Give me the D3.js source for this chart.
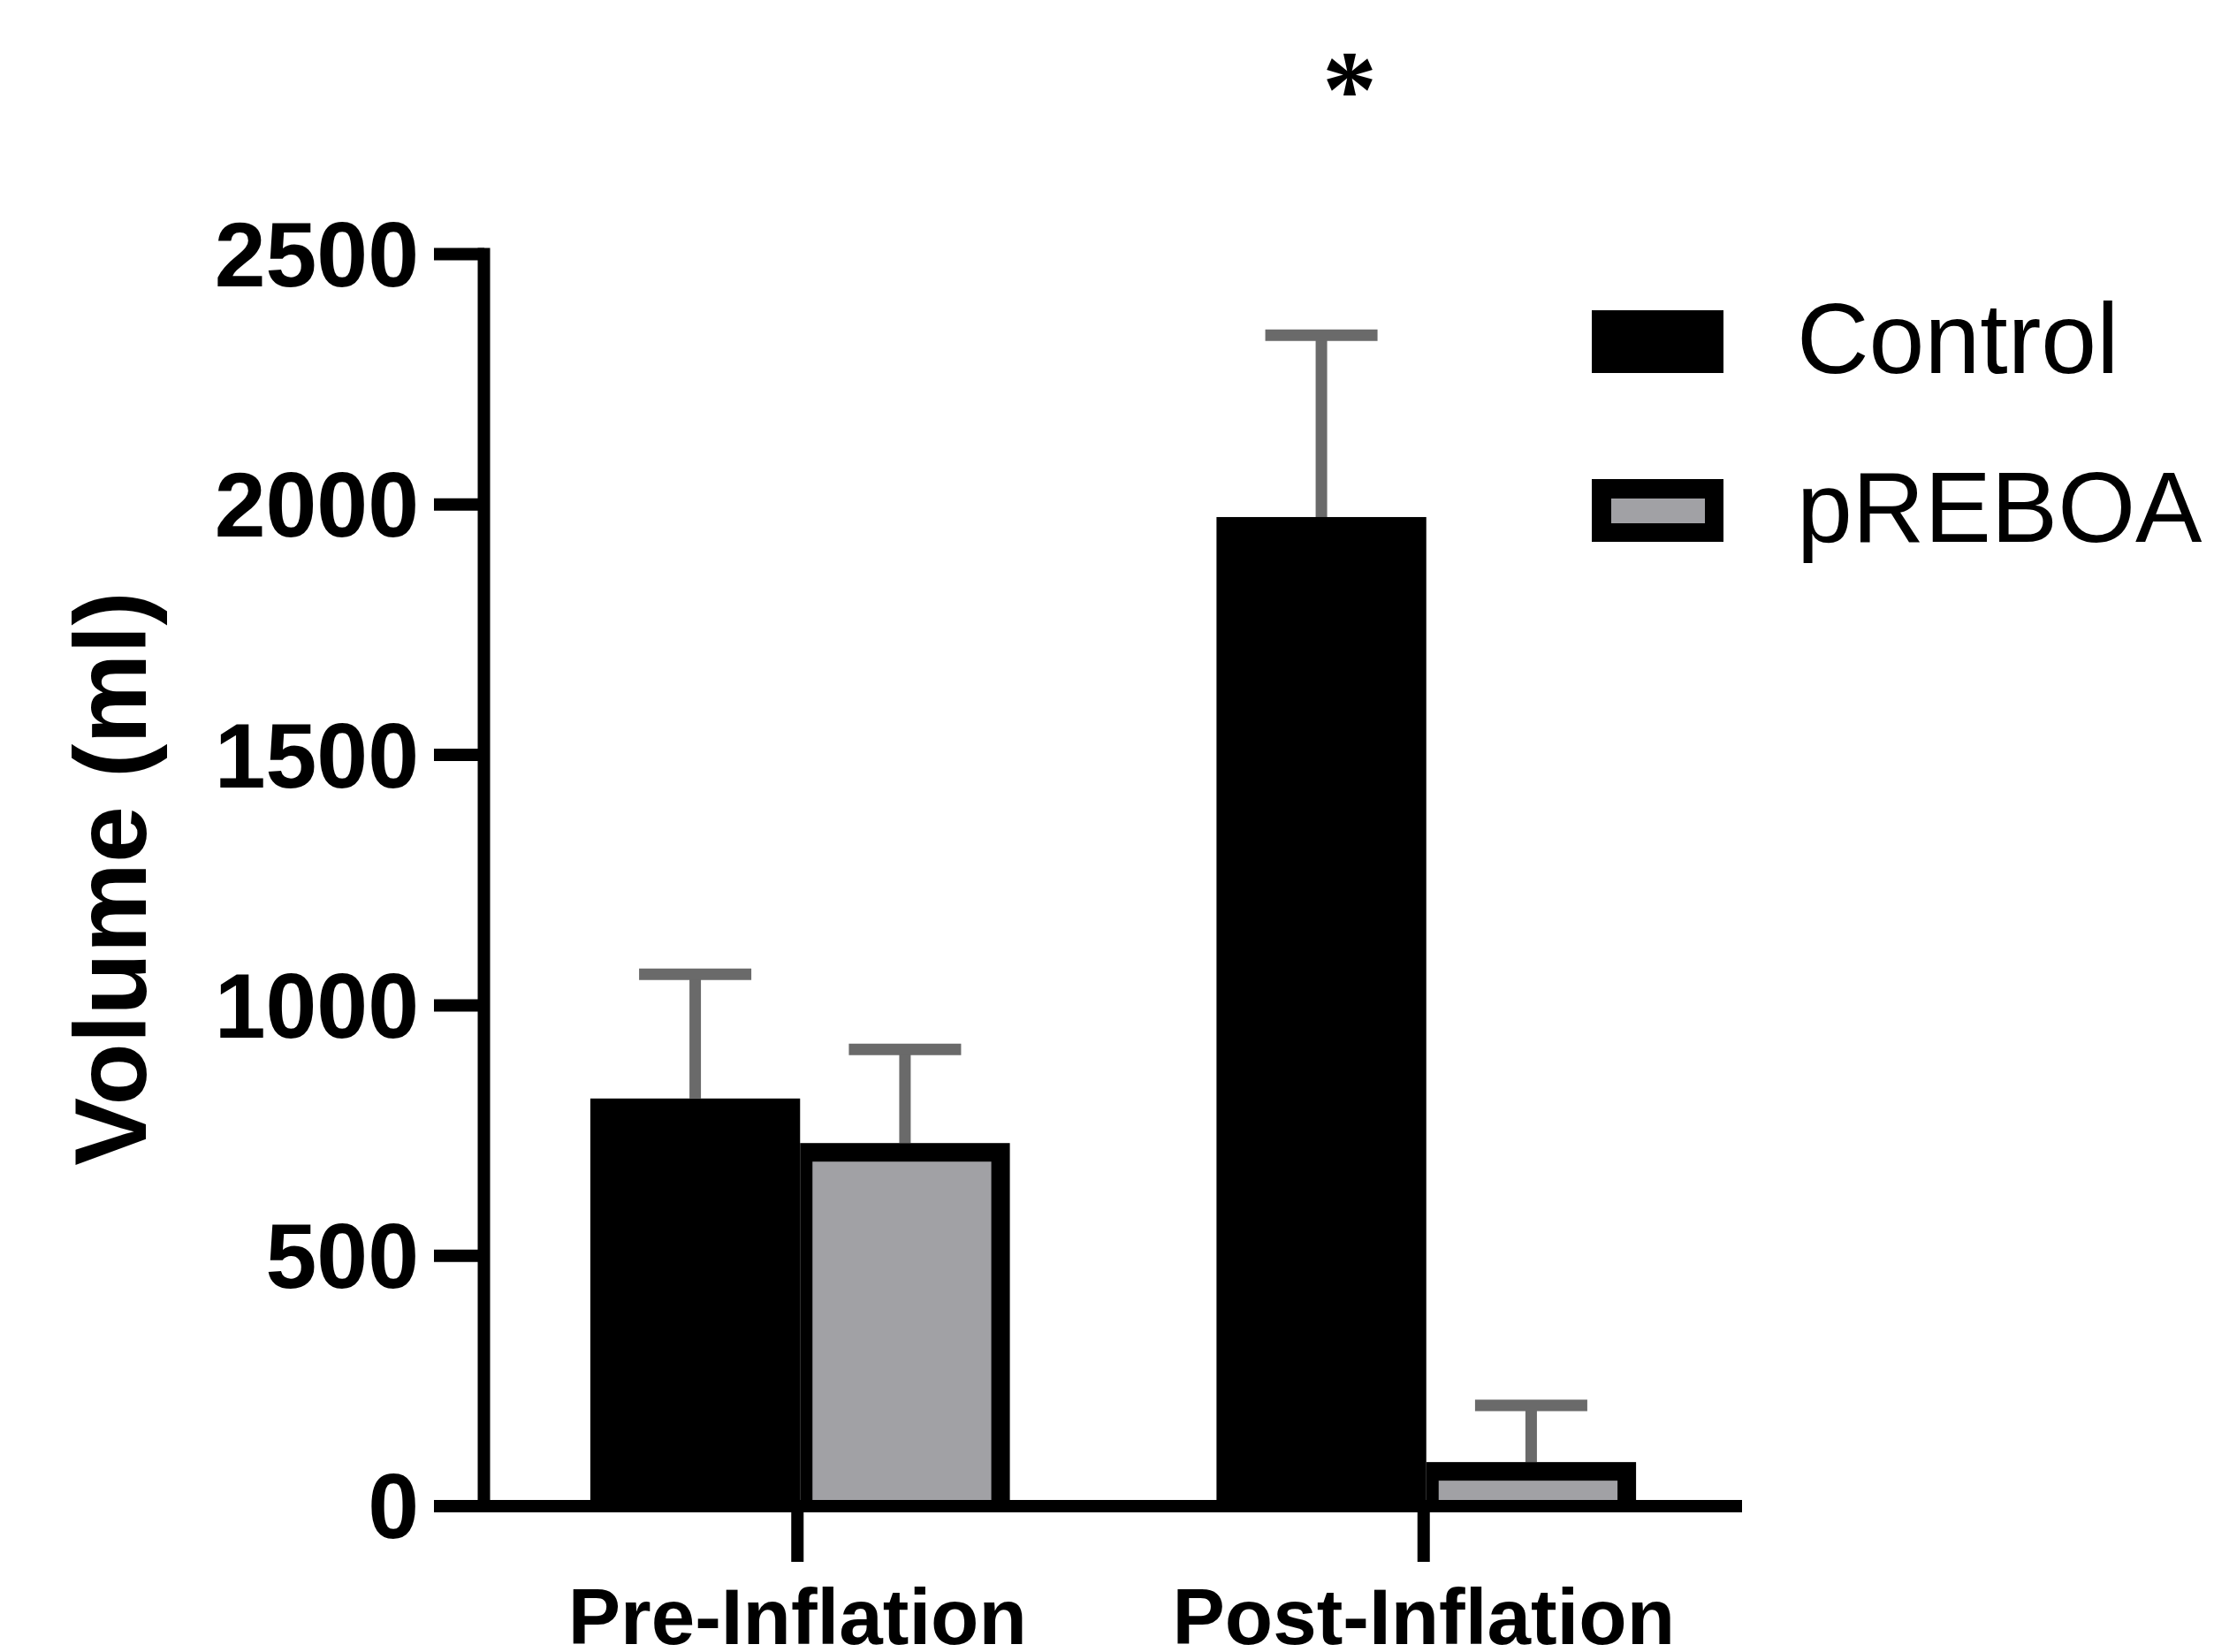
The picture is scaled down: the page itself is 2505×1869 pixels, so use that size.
<!DOCTYPE html>
<html>
<head>
<meta charset="utf-8">
<script src="https://cdn.jsdelivr.net/npm/d3@7"></script>
<style>
  html, body { margin: 0; padding: 0; background: #fff; }
  svg { display: block; }
</style>
</head>
<body>
<div id="chart"></div>
<script>
// data
const groups = ["Pre-Inflation", "Post-Inflation"];
const series = ["Control", "pREBOA"];
const controlMeans = [814, 1975];
const controlUpper = [1062, 2338];   // top of the error bar
const reboaMeans = [725, 88];
const reboaUpper = [912, 201];
const yTicks = [0, 500, 1000, 1500, 2000, 2500];

const W = 2505, H = 1869;
const font = "'Liberation Sans', Arial, sans-serif";
const gray = "#a1a1a5";
const errColor = "#6a6a6a";

const svg = d3.select("#chart").append("svg")
    .attr("width", W)
    .attr("height", H)
    .attr("viewBox", [0, 0, W, H])
    .style("background", "#fff");

// scales
const y = d3.scaleLinear().domain([0, 2500]).range([1704, 287.5]);
const x = d3.scaleBand().domain(groups).range([551, 1968]).paddingInner(0.33).paddingOuter(0.165);
const xs = d3.scaleBand().domain(series).range([0, x.bandwidth()]);

const rows = groups.map((g, i) => ([
    { group: g, key: "Control", mean: controlMeans[i], upper: controlUpper[i] },
    { group: g, key: "pREBOA", mean: reboaMeans[i], upper: reboaUpper[i] }
])).flat();

const barX = d => x(d.group) + xs(d.key);
const border = 21;

// bars
const bar = svg.append("g").selectAll("g")
    .data(rows)
    .join("g");

// error bars (drawn first, bars sit over the stem)
const capW = 127;
bar.append("line")
    .attr("x1", d => barX(d) + xs.bandwidth() / 2)
    .attr("x2", d => barX(d) + xs.bandwidth() / 2)
    .attr("y1", d => y(d.mean))
    .attr("y2", d => y(d.upper))
    .attr("stroke", errColor)
    .attr("stroke-width", 13);
bar.append("line")
    .attr("x1", d => barX(d) + xs.bandwidth() / 2 - capW / 2)
    .attr("x2", d => barX(d) + xs.bandwidth() / 2 + capW / 2)
    .attr("y1", d => y(d.upper))
    .attr("y2", d => y(d.upper))
    .attr("stroke", errColor)
    .attr("stroke-width", 13);

bar.append("rect")
    .attr("x", d => barX(d))
    .attr("y", d => y(d.mean))
    .attr("width", xs.bandwidth())
    .attr("height", d => y(0) - y(d.mean))
    .attr("fill", "#000");

// grey inside of the pREBOA bars
bar.filter(d => d.key === "pREBOA").append("rect")
    .attr("x", d => barX(d) + 14)
    .attr("y", d => y(d.mean) + border)
    .attr("width", xs.bandwidth() - 14 - border)
    .attr("height", d => Math.max(0, y(0) - y(d.mean) - border))
    .attr("fill", gray);

// axes
const axisW = 14;
svg.append("line")
    .attr("x1", 547.5).attr("x2", 547.5)
    .attr("y1", y(2500) - 7).attr("y2", y(0) + 7)
    .attr("stroke", "#000").attr("stroke-width", axisW);
svg.append("line")
    .attr("x1", 491).attr("x2", 1971)
    .attr("y1", y(0)).attr("y2", y(0))
    .attr("stroke", "#000").attr("stroke-width", axisW);

const yt = svg.append("g").selectAll("g").data(yTicks).join("g");
yt.append("line")
    .attr("x1", 491).attr("x2", 548)
    .attr("y1", d => y(d)).attr("y2", d => y(d))
    .attr("stroke", "#000").attr("stroke-width", axisW);
yt.append("text")
    .attr("x", 474)
    .attr("y", d => y(d))
    .attr("dy", "0.35em")
    .attr("text-anchor", "end")
    .attr("font-family", font)
    .attr("font-weight", "bold")
    .attr("font-size", 104)
    .attr("fill", "#000")
    .text(d => d);

const xt = svg.append("g").selectAll("g").data(groups).join("g");
xt.append("line")
    .attr("x1", d => x(d) + x.bandwidth() / 2 - 3)
    .attr("x2", d => x(d) + x.bandwidth() / 2 - 3)
    .attr("y1", y(0)).attr("y2", 1767)
    .attr("stroke", "#000").attr("stroke-width", axisW);
xt.append("text")
    .attr("x", d => x(d) + x.bandwidth() / 2 - 3)
    .attr("y", 1860)
    .attr("text-anchor", "middle")
    .attr("font-family", font)
    .attr("font-weight", "bold")
    .attr("font-size", 89)
    .attr("fill", "#000")
    .text(d => d);

// y axis title
svg.append("text")
    .attr("transform", "translate(165,994) rotate(-90)")
    .attr("text-anchor", "middle")
    .attr("font-family", font)
    .attr("font-weight", "bold")
    .attr("font-size", 115)
    .attr("fill", "#000")
    .text("Volume (ml)");

// significance mark above post-inflation
svg.append("text")
    .attr("x", 1527)
    .attr("y", 143)
    .attr("text-anchor", "middle")
    .attr("font-family", "'Liberation Serif', 'Times New Roman', serif")
    .attr("font-weight", "bold")
    .attr("font-size", 124)
    .attr("fill", "#000")
    .text("*");

// legend
const legend = svg.append("g").selectAll("g")
    .data(series)
    .join("g")
    .attr("transform", (d, i) => `translate(1801,${351 + i * 191})`);
legend.append("rect")
    .attr("width", 149).attr("height", 71)
    .attr("fill", "#000");
legend.filter(d => d === "pREBOA").append("rect")
    .attr("x", 22).attr("y", 22)
    .attr("width", 106).attr("height", 28)
    .attr("fill", gray);
legend.append("text")
    .attr("x", 232)
    .attr("y", 71)
    .attr("font-family", font)
    .attr("font-size", 113)
    .attr("fill", "#000")
    .text(d => d);
</script>
</body>
</html>
